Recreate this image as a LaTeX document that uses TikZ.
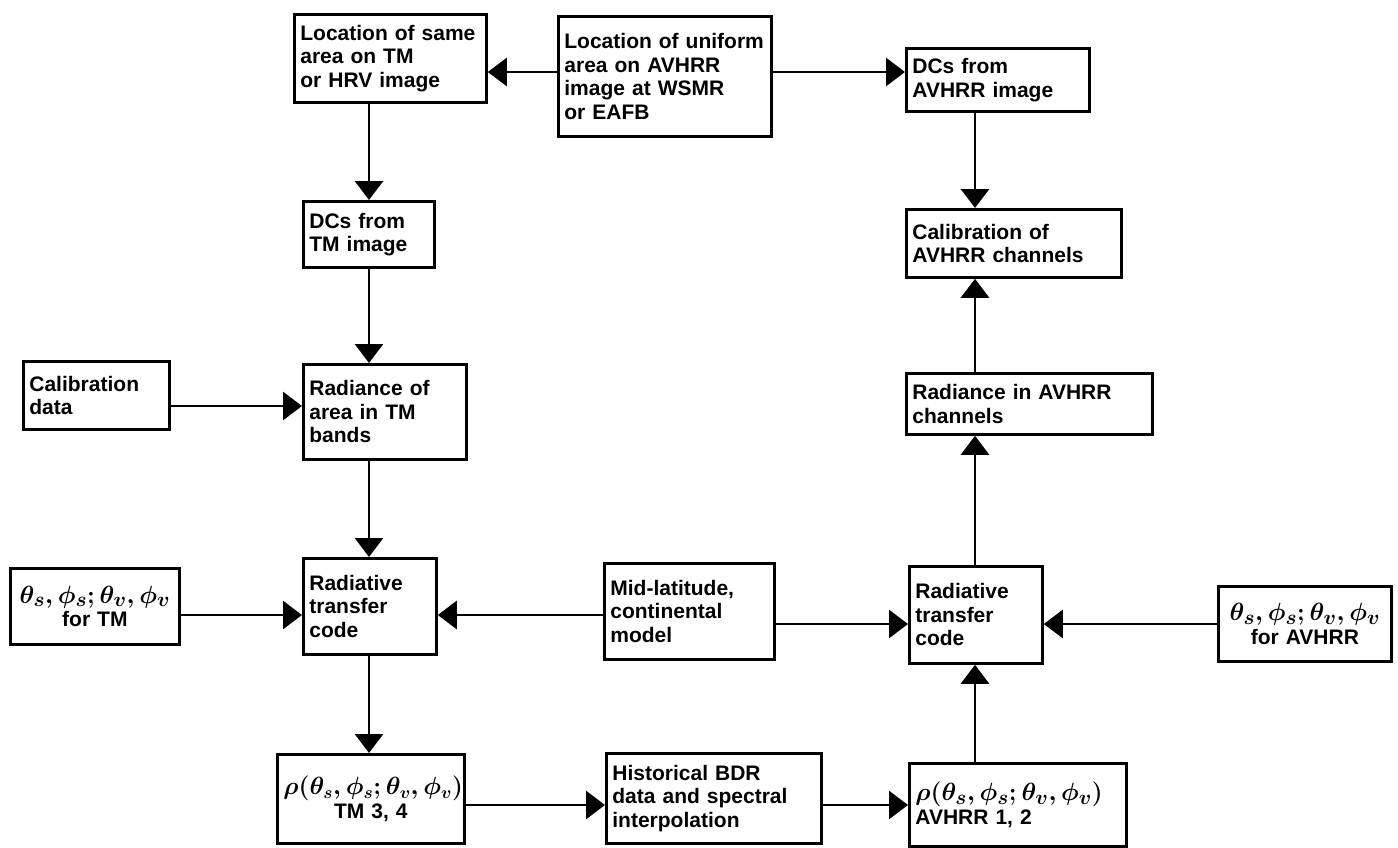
\documentclass[tikz,border=0pt]{standalone}
\usepackage{fontspec}
\setmainfont{Liberation Sans}
\usetikzlibrary{arrows.meta}
\newcommand\angset{\theta_s,\phi_s;\theta_v,\phi_v}
\begin{document}
\begin{tikzpicture}[x=1pt,y=-1pt,
  box/.style={draw, line width=2.8pt, rectangle, anchor=north west, align=left,
    inner xsep=6pt, inner ysep=3pt, font=\fontsize{21}{23.5}\selectfont\bfseries},
  arr/.style={line width=2.8pt, -{Triangle[length=19pt,width=28pt]}}]
\useasboundingbox (0,0) rectangle (1398,847);
% column and row guides
\coordinate (cl) at (369,0);
\coordinate (cr) at (975,0);
\coordinate (yT) at (0,72);
\coordinate (yC) at (0,406);
\coordinate (yL) at (0,615);
\coordinate (yR) at (0,624);
\coordinate (yB) at (0,805);
% boxes
\node[box, minimum width=192pt, minimum height=88pt, text width=180pt] (same) at (293,13)
  {Location of same\\area on TM\\or HRV image};
\node[box, minimum width=213pt, minimum height=120pt, text width=201pt] (unif) at (557,15)
  {Location of uniform\\area on AVHRR\\image at WSMR\\or EAFB};
\node[box, minimum width=183pt, minimum height=63pt, text width=171pt] (dcav) at (905,47)
  {DCs from\\AVHRR image};
\node[box, minimum width=131pt, minimum height=66pt, text width=119pt] (dctm) at (302,200)
  {DCs from\\TM image};
\node[box, minimum width=215pt, minimum height=68pt, text width=203pt] (calav) at (905,208)
  {Calibration of\\AVHRR channels};
\node[box, minimum width=246pt, minimum height=61pt, text width=234pt] (radav) at (905,372)
  {Radiance in AVHRR\\channels};
\node[box, minimum width=146pt, minimum height=68pt, text width=134pt] (calib) at (22,360)
  {Calibration\\data};
\node[box, minimum width=163pt, minimum height=95pt, text width=151pt] (radarea) at (302,363)
  {Radiance of\\area in TM\\bands};
\node[box, minimum width=133pt, minimum height=96pt, text width=121pt] (rtcL) at (302,557)
  {Radiative\\transfer\\code};
\node[box, minimum width=169pt, minimum height=76pt, text width=157pt, align=center] (thTM) at (9,567)
  {{\fontsize{31}{30}\selectfont\boldmath$\angset$}\\for TM};
\node[box, minimum width=170pt, minimum height=96pt, text width=158pt] (mid) at (603,562)
  {Mid-latitude,\\continental\\model};
\node[box, minimum width=133pt, minimum height=97pt, text width=121pt] (rtcR) at (908,565)
  {Radiative\\transfer\\code};
\node[box, minimum width=173pt, minimum height=75pt, text width=161pt, align=center] (thAV) at (1217,585)
  {{\fontsize{31}{30}\selectfont\boldmath$\angset$}\\for AVHRR};
\node[box, minimum width=187pt, minimum height=89pt, text width=175pt, align=center] (rhoTM) at (276,753)
  {{\fontsize{27}{30}\selectfont\boldmath$\rho(\angset)$}\\TM 3, 4};
\node[box, minimum width=215pt, minimum height=90pt, text width=203pt] (hist) at (605,752)
  {Historical BDR\\data and spectral\\interpolation};
\node[box, minimum width=217pt, minimum height=83pt, text width=205pt] (rhoAV) at (908,762)
  {{\fontsize{32}{30}\selectfont\boldmath$\rho(\angset)$}\\AVHRR 1, 2};
% connectors
\draw[arr] (unif.west |- yT) -- (same.east |- yT);
\draw[arr] (unif.east |- yT) -- (dcav.west |- yT);
\draw[arr] (cl |- same.south) -- (cl |- dctm.north);
\draw[arr] (cl |- dctm.south) -- (cl |- radarea.north);
\draw[arr] (calib.east |- yC) -- (radarea.west |- yC);
\draw[arr] (cl |- radarea.south) -- (cl |- rtcL.north);
\draw[arr] (thTM.east |- yL) -- (rtcL.west |- yL);
\draw[arr] (mid.west |- yL) -- (rtcL.east |- yL);
\draw[arr] (mid.east |- yR) -- (rtcR.west |- yR);
\draw[arr] (thAV.west |- yR) -- (rtcR.east |- yR);
\draw[arr] (cl |- rtcL.south) -- (cl |- rhoTM.north);
\draw[arr] (rhoTM.east |- yB) -- (hist.west |- yB);
\draw[arr] (hist.east |- yB) -- (rhoAV.west |- yB);
\draw[arr] (cr |- rhoAV.north) -- (cr |- rtcR.south);
\draw[arr] (cr |- rtcR.north) -- (cr |- radav.south);
\draw[arr] (cr |- radav.north) -- (cr |- calav.south);
\draw[arr] (cr |- dcav.south) -- (cr |- calav.north);
\end{tikzpicture}
\end{document}
